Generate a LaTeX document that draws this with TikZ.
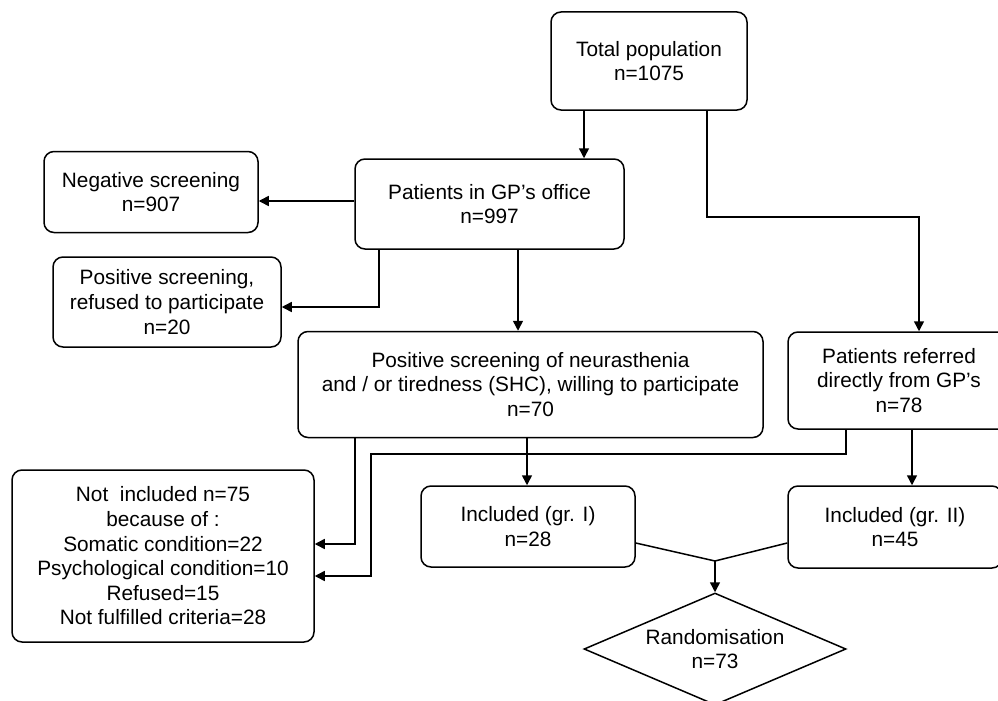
\documentclass[tikz,border=0pt]{standalone}
\usepackage{fontspec}
\setmainfont{Liberation Sans}
\usetikzlibrary{shapes.geometric,arrows.meta}
\tikzset{
  box/.style={draw, line width=1.5pt, rounded corners=10pt, inner sep=0pt, align=center,
    font=\fontsize{20.8}{24.6}\selectfont},
  decision/.style={draw, line width=1.5pt, diamond, shape aspect=2.34, inner sep=0pt, align=center,
    font=\fontsize{20.8}{24.6}\selectfont},
  arr/.style={line width=1.5pt, -{Triangle[length=10pt,width=10pt]}},
  ln/.style={line width=1.5pt},
}
\begin{document}
\begin{tikzpicture}[x=1pt,y=-1pt]
\useasboundingbox (0,0) rectangle (998,701);
\begin{scope}
\clip (0,0) rectangle (998,701);
\node[box, minimum width=196pt, minimum height=98pt] (total) at (649,61) {Total population\\n=1075};
\node[box, minimum width=269pt, minimum height=90pt] (gp) at (489.5,204) {Patients in GP’s office\\n=997};
\node[box, minimum width=214pt, minimum height=81pt] (neg) at (151,192) {Negative screening\\n=907};
\node[box, minimum width=228pt, minimum height=90pt] (pos) at (167,302) {Positive screening,\\refused to participate\\n=20};
\node[box, minimum width=465pt, minimum height=106pt] (neur) at (530.5,384.5) {Positive screening of neurasthenia\\and / or tiredness (SHC), willing to participate\\n=70};
\node[box, minimum width=222pt, minimum height=97pt] (ref) at (899,380.5) {Patients referred\\directly from GP’s\\n=78};
\node[box, minimum width=302pt, minimum height=172pt] (notinc) at (163,556) {Not\ \ included n=75\\because of :\\Somatic condition=22\\Psychological condition=10\\Refused=15\\Not fulfilled criteria=28};
\node[box, minimum width=214pt, minimum height=81pt] (gr1) at (528,526.5) {Included (gr. I)\\n=28};
\node[box, minimum width=214pt, minimum height=82pt] (gr2) at (895,527) {Included (gr. II)\\n=45};
\node[decision, minimum width=262pt, minimum height=112pt] (rand) at (715,649) {Randomisation\\n=73};

\coordinate (xA) at (584,0);
\coordinate (xB) at (707,217);
\coordinate (xC) at (919,0);
\coordinate (yA) at (0,201);
\coordinate (pB) at (379,307);
\coordinate (xD) at (518,0);
\coordinate (pE) at (355,544);
\coordinate (pF) at (846,454);
\coordinate (pG) at (371,576);
\coordinate (xH) at (527,0);
\coordinate (xI) at (912,0);
\coordinate (yK) at (0,543);
\coordinate (J) at (715,561);

\draw[arr] (total.south -| xA) -- (gp.north -| xA);
\draw[arr] (total.south -| xB) -- (xB) -- (xB -| xC) -- (ref.north -| xC);
\draw[arr] (gp.west |- yA) -- (neg.east |- yA);
\draw[arr] (gp.south -| pB) -- (pB) -- (pos.east |- pB);
\draw[arr] (gp.south -| xD) -- (neur.north -| xD);
\draw[arr] (neur.south -| pE) -- (pE) -- (notinc.east |- pE);
\draw[arr] (ref.south -| pF) -- (pF) -- (pF -| pG) -- (pG) -- (notinc.east |- pG);
\draw[arr] (neur.south -| xH) -- (gr1.north -| xH);
\draw[arr] (ref.south -| xI) -- (gr2.north -| xI);
\draw[ln] (gr1.east |- yK) -- (J) -- (gr2.west |- yK);
\draw[arr] (J) -- (rand.north);
\end{scope}
\end{tikzpicture}
\end{document}
